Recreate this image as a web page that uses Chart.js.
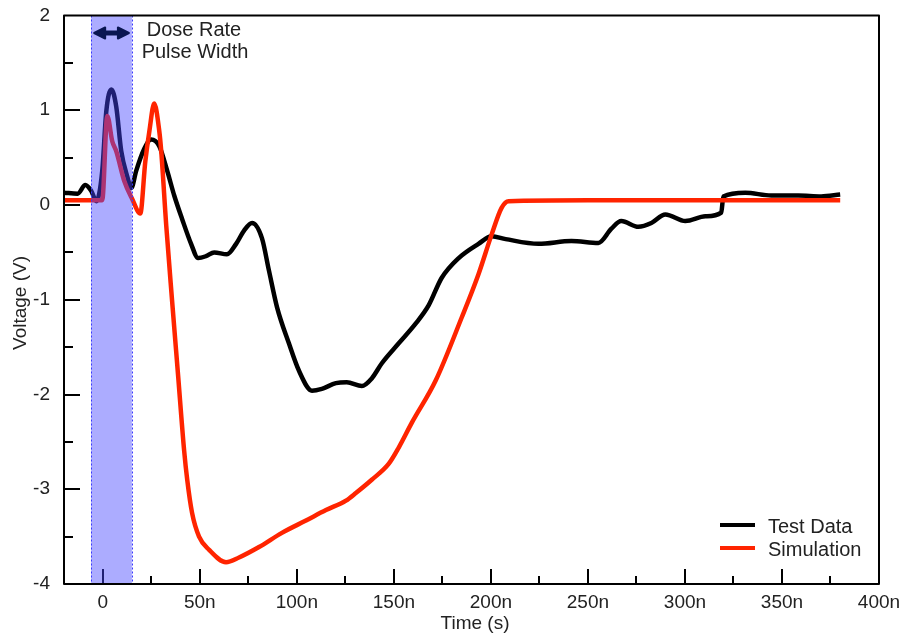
<!DOCTYPE html>
<html>
<head>
<meta charset="utf-8">
<script src="https://cdn.jsdelivr.net/npm/chart.js@4/dist/chart.umd.min.js"></script>
<style>
  html, body { margin: 0; padding: 0; background: #fff; }
  #wrap { width: 907px; height: 635px; }
</style>
</head>
<body>
<div id="wrap"><canvas id="c" width="907" height="635"></canvas></div>
<script>
// Measured transient response, time in ns, voltage in V
const testTime = [-20, -13, -9, -6, -3.3, -0.3, 1.8, 4.4, 6.9, 9.5, 12.6, 14.7, 17.2, 21.3, 24.9, 29.1,
  33.2, 36.8, 40.9, 45.5, 49.1, 53.2, 57.4, 64, 68.7, 72.8, 76.9, 82, 85.6, 89.8, 95.9, 101.1,
  107.8, 112.9, 120.1, 125.7, 133.5, 138.6, 143.8, 152.5, 161.3, 167.9, 174.6, 183.4, 193.6,
  200.4, 207.6, 224.5, 241.5, 255.4, 262.1, 267.2, 276, 282.7, 289.9, 300.2, 310.5, 318.7,
  319.8, 331.1, 344.5, 358.4, 370.2, 380];
const testVolt = [0.13, 0.12, 0.21, 0.15, 0.04, 0.36, 0.99, 1.22, 1.04, 0.57, 0.30, 0.18, 0.36, 0.59, 0.69, 0.62,
  0.36, 0.10, -0.15, -0.41, -0.56, -0.54, -0.50, -0.52, -0.41, -0.27, -0.19, -0.35, -0.69, -1.08, -1.46, -1.75,
  -1.96, -1.94, -1.88, -1.87, -1.91, -1.83, -1.67, -1.46, -1.25, -1.06, -0.77, -0.56, -0.41,
  -0.33, -0.36, -0.41, -0.38, -0.40, -0.25, -0.17, -0.23, -0.19, -0.10, -0.17, -0.12, -0.08,
  0.09, 0.13, 0.10, 0.10, 0.09, 0.11];

// Simulated response
const simTime = [-20, -0.3, 2.3, 4.9, 6.9, 11.1, 15.2, 19.3, 21.9, 24, 26.5, 29.1, 30.1, 32.7, 35.7, 38.8,
  41.9, 43.5, 46, 49.6, 54.8, 63.5, 70.2, 80.5, 92.3, 104.7, 115, 125.3, 130.4, 138.6,
  147.4, 152.5, 159.2, 171.6, 184.9, 193.6, 200.4, 205.5, 209.1, 250, 300, 350, 380];
const simVolt = [0.05, 0.05, 0.94, 0.67, 0.57, 0.25, 0.06, -0.09, 0.46, 0.78, 1.07, 0.78, 0.57, -0.22, -1.01, -1.8,
  -2.59, -2.9, -3.25, -3.5, -3.64, -3.77, -3.72, -3.61, -3.46, -3.33, -3.22, -3.12, -3.04, -2.9,
  -2.73, -2.56, -2.3, -1.85, -1.19, -0.73, -0.31, -0.03, 0.04, 0.05, 0.05, 0.05, 0.05];

// Dose-rate pulse window (ns)
const pulseWindow = [-6, 15];
const pulseLabel = ['Dose Rate', 'Pulse Width'];

// Axis settings
const xRange = [-20, 400];
const yRange = [-4, 2];
const xMajorTicks = [0, 50, 100, 150, 200, 250, 300, 350];
const xMinorTicks = [25, 75, 125, 175, 225, 275, 325, 375];
const yMajorTicks = [-3, -2, -1, 0, 1];
const yMinorTicks = [-3.5, -2.5, -1.5, -0.5, 0.5, 1.5];

const seriesNames = ['Test Data', 'Simulation'];
const seriesColors = ['#000000', '#ff2400'];

const FONT = '"Liberation Sans", Arial, Helvetica, sans-serif';
const TEXT = '#222222';

const toPoints = (xs, ys) => xs.map((x, i) => ({ x, y: ys[i] }));

const overlay = {
  id: 'overlay',
  afterDatasetsDraw(chart) {
    const { ctx, chartArea: a, scales: { x, y } } = chart;
    ctx.save();

    // inward tick marks
    ctx.strokeStyle = '#000';
    ctx.lineWidth = 2;
    const vTick = (v, len) => {
      const px = Math.round(x.getPixelForValue(v));
      ctx.beginPath(); ctx.moveTo(px, a.bottom); ctx.lineTo(px, a.bottom - len); ctx.stroke();
    };
    const hTick = (v, len) => {
      const py = Math.round(y.getPixelForValue(v));
      ctx.beginPath(); ctx.moveTo(a.left, py); ctx.lineTo(a.left + len, py); ctx.stroke();
    };
    xMajorTicks.forEach(v => vTick(v, 15));
    xMinorTicks.forEach(v => vTick(v, 8));
    yMajorTicks.forEach(v => hTick(v, 16));
    yMinorTicks.forEach(v => hTick(v, 9));

    // translucent pulse band
    const bx0 = x.getPixelForValue(pulseWindow[0]);
    const bx1 = x.getPixelForValue(pulseWindow[1]);
    ctx.fillStyle = 'rgba(70, 70, 255, 0.45)';
    ctx.fillRect(bx0, a.top, bx1 - bx0, a.bottom - a.top);
    ctx.strokeStyle = '#3a3aff';
    ctx.lineWidth = 1;
    ctx.setLineDash([2, 2]);
    [bx0, bx1].forEach(px => {
      ctx.beginPath(); ctx.moveTo(Math.round(px) + 0.5, a.top); ctx.lineTo(Math.round(px) + 0.5, a.bottom); ctx.stroke();
    });
    ctx.setLineDash([]);

    // double-headed arrow spanning the pulse
    const ax0 = bx0 + 3;
    const ax1 = bx1 - 3;
    const ay = 33;
    ctx.fillStyle = '#0a1652';
    ctx.strokeStyle = '#0a1652';
    ctx.lineWidth = 5;
    ctx.lineJoin = 'round';
    ctx.beginPath(); ctx.moveTo(ax0 + 8, ay); ctx.lineTo(ax1 - 8, ay); ctx.stroke();
    ctx.lineWidth = 2;
    ctx.beginPath(); ctx.moveTo(ax0, ay); ctx.lineTo(ax0 + 11, ay - 5.5); ctx.lineTo(ax0 + 11, ay + 5.5); ctx.closePath(); ctx.fill(); ctx.stroke();
    ctx.beginPath(); ctx.moveTo(ax1, ay); ctx.lineTo(ax1 - 11, ay - 5.5); ctx.lineTo(ax1 - 11, ay + 5.5); ctx.closePath(); ctx.fill(); ctx.stroke();

    // frame
    ctx.strokeStyle = '#000';
    ctx.lineWidth = 2;
    ctx.strokeRect(a.left, a.top, a.right - a.left, a.bottom - a.top);

    // pulse annotation text
    ctx.fillStyle = TEXT;
    ctx.font = '20px ' + FONT;
    ctx.textAlign = 'center';
    ctx.textBaseline = 'middle';
    ctx.fillText(pulseLabel[0], 194, 30);
    ctx.fillText(pulseLabel[1], 195, 52);

    // legend
    ctx.textAlign = 'left';
    seriesNames.forEach((name, i) => {
      const ly = 525 + i * 23;
      ctx.strokeStyle = seriesColors[i];
      ctx.lineWidth = 4;
      ctx.beginPath(); ctx.moveTo(720, ly); ctx.lineTo(755, ly); ctx.stroke();
      ctx.fillStyle = TEXT;
      ctx.fillText(name, 768, ly + 2);
    });

    // axis titles
    ctx.font = '19px ' + FONT;
    ctx.textAlign = 'center';
    ctx.fillText('Time (s)', 475, 624);
    ctx.translate(21, 303);
    ctx.rotate(-Math.PI / 2);
    ctx.fillText('Voltage (V)', 0, 0);
    ctx.restore();
  }
};

new Chart(document.getElementById('c'), {
  type: 'line',
  data: {
    datasets: [
      { label: seriesNames[0], data: toPoints(testTime, testVolt), borderColor: seriesColors[0],
        borderWidth: 4.5, pointRadius: 0, cubicInterpolationMode: 'monotone', order: 1 },
      { label: seriesNames[1], data: toPoints(simTime, simVolt), borderColor: seriesColors[1],
        borderWidth: 4.5, pointRadius: 0, cubicInterpolationMode: 'monotone', order: 0 }
    ]
  },
  options: {
    responsive: false,
    animation: false,
    events: [],
    layout: { padding: { top: 14, right: 28, left: 0, bottom: 0 } },
    plugins: { legend: { display: false }, tooltip: { enabled: false } },
    scales: {
      x: {
        type: 'linear', min: xRange[0], max: xRange[1],
        grid: { display: false }, border: { display: false },
        afterFit(s) { s.height = 51; },
        ticks: {
          stepSize: 50, includeBounds: false, maxRotation: 0, autoSkip: false, padding: 1,
          color: TEXT, font: { family: FONT, size: 19, lineHeight: 1 },
          callback: v => (v === 0 ? '0' : v + 'n')
        }
      },
      y: {
        type: 'linear', min: yRange[0], max: yRange[1],
        grid: { display: false }, border: { display: false },
        afterFit(s) { s.width = 64; },
        ticks: {
          stepSize: 1, padding: 6, color: TEXT, font: { family: FONT, size: 19, lineHeight: 1 },
          callback: v => String(v)
        }
      }
    }
  },
  plugins: [overlay]
});
</script>
</body>
</html>
